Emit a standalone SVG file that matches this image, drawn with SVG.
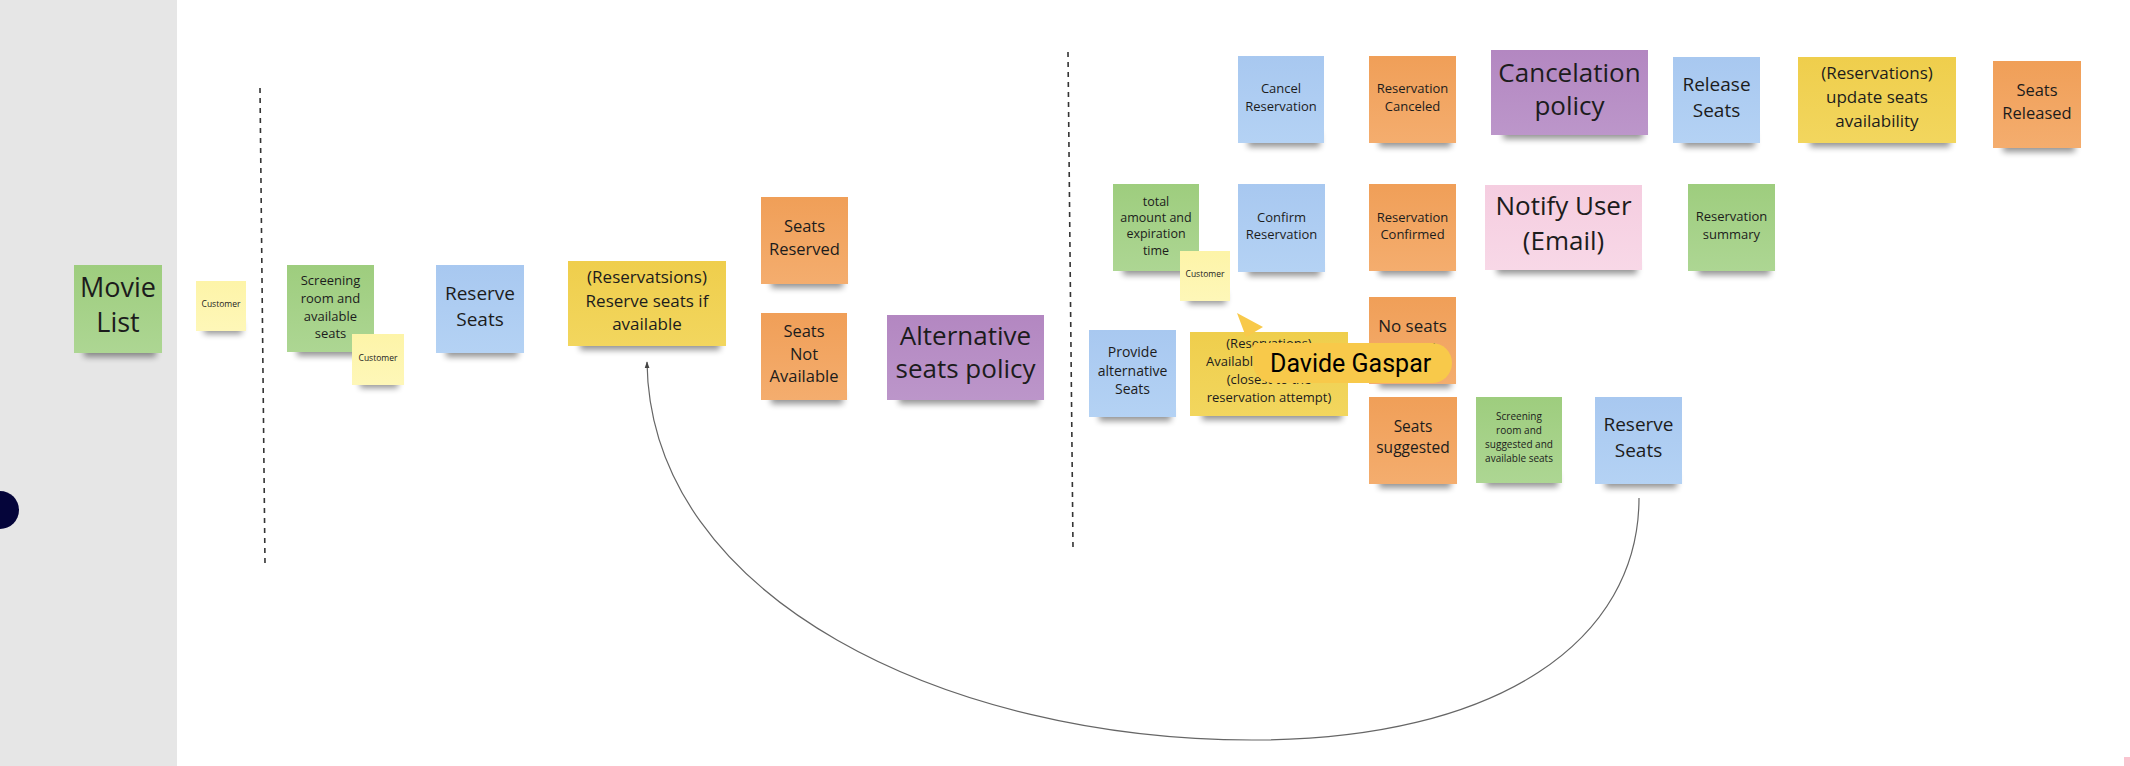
<svg xmlns="http://www.w3.org/2000/svg" width="2130" height="766" viewBox="0 0 2130 766">
<style>
.t{font-family:"Open Sans","Liberation Sans",sans-serif;fill:#1c1c1c;text-anchor:middle}
.f8{font-size:8.5px}.f10{font-size:10px}.f13{font-size:13px}.f125{font-size:12.5px}.f14{font-size:14px}.f155{font-size:15.5px}.f165{font-size:16.5px}.f17{font-size:17px}.f19{font-size:19px}.f26{font-size:26px}.f27{font-size:27px}
.sh{fill:#000;opacity:.42;filter:url(#blur)}
.green{fill:url(#gG)}.blue{fill:url(#gB)}.orange{fill:url(#gO)}.yellow{fill:url(#gY)}.purple{fill:url(#gP)}.pink{fill:url(#gK)}.ly{fill:url(#gL)}
.dash{stroke:#333;stroke-width:1.6;stroke-dasharray:5 5;fill:none}
.conn{stroke:#666;stroke-width:1.2;fill:none}
</style>
<defs>
<filter id="blur" x="-20%" y="-100%" width="140%" height="300%"><feGaussianBlur stdDeviation="3"/></filter>
<linearGradient id="gG" x1="0" y1="0" x2="0" y2="1"><stop offset="0" stop-color="#9ecd7e"/><stop offset="1" stop-color="#add693"/></linearGradient>
<linearGradient id="gB" x1="0" y1="0" x2="0" y2="1"><stop offset="0" stop-color="#a8c8f0"/><stop offset="1" stop-color="#b4d2f4"/></linearGradient>
<linearGradient id="gO" x1="0" y1="0" x2="0" y2="1"><stop offset="0" stop-color="#f09f58"/><stop offset="1" stop-color="#f4ad6e"/></linearGradient>
<linearGradient id="gY" x1="0" y1="0" x2="0" y2="1"><stop offset="0" stop-color="#efce4c"/><stop offset="1" stop-color="#f2d65e"/></linearGradient>
<linearGradient id="gP" x1="0" y1="0" x2="0" y2="1"><stop offset="0" stop-color="#b387c1"/><stop offset="1" stop-color="#bc96ca"/></linearGradient>
<linearGradient id="gK" x1="0" y1="0" x2="0" y2="1"><stop offset="0" stop-color="#f5cde0"/><stop offset="1" stop-color="#f8d8e7"/></linearGradient>
<linearGradient id="gL" x1="0" y1="0" x2="0" y2="1"><stop offset="0" stop-color="#fdf4a8"/><stop offset="1" stop-color="#fef7b8"/></linearGradient>
<marker id="arr" viewBox="0 0 10 10" refX="9" refY="5" markerWidth="7" markerHeight="7" orient="auto" markerUnits="userSpaceOnUse"><path d="M0 1.5 L10 5 L0 8.5 z" fill="#444"/></marker>
</defs>
<rect x="0" y="0" width="2130" height="766" fill="#ffffff"/>
<rect x="0" y="0" width="177" height="766" fill="#e6e6e6"/>
<circle cx="0" cy="510" r="19" fill="#05053a"/>
<rect x="2124" y="757" width="6" height="9" fill="#f9c4cf"/>

<g id="separators">
<path class="dash" d="M260 88 L265 564"/>
<path class="dash" d="M1068 52 L1073 548"/>
</g>

<g id="connectors">
<path class="conn" marker-end="url(#arr)" d="M1639 498 C1639 640 1500 740 1252 740 C950 740 650 600 647 362"/>
</g>

<g id="movie-list"><rect class="sh" x="84" y="343" width="72" height="14"/><rect class="green" x="74" y="265" width="88" height="88"/>
<text class="t f27" x="118" y="297">Movie</text><text class="t f27" x="118" y="332">List</text></g>

<g id="customer-1"><rect class="sh" x="204" y="322" width="38" height="12"/><rect class="ly" x="196" y="281" width="50" height="50"/>
<text class="t f8" x="221" y="307">Customer</text></g>

<g id="screening-room"><rect class="sh" x="297" y="342" width="72" height="14"/><rect class="green" x="287" y="265" width="87" height="87"/>
<text class="t f13" x="330.5" y="285">Screening</text><text class="t f13" x="330.5" y="303">room and</text><text class="t f13" x="330.5" y="321">available</text><text class="t f13" x="330.5" y="338">seats</text></g>

<g id="customer-2"><rect class="sh" x="360" y="376" width="38" height="12"/><rect class="ly" x="352" y="334" width="52" height="51"/>
<text class="t f8" x="378" y="361">Customer</text></g>

<g id="reserve-seats-1"><rect class="sh" x="446" y="343" width="72" height="14"/><rect class="blue" x="436" y="265" width="88" height="88"/>
<text class="t f19" x="480" y="300">Reserve</text><text class="t f19" x="480" y="326">Seats</text></g>

<g id="reserve-seats-if-available"><rect class="sh" x="580" y="336" width="140" height="14"/><rect class="yellow" x="568" y="261" width="158" height="85"/>
<text class="t f17" x="647" y="283">(Reservatsions)</text><text class="t f17" x="647" y="307">Reserve seats if</text><text class="t f17" x="647" y="330">available</text></g>

<g id="seats-reserved"><rect class="sh" x="771" y="274" width="72" height="14"/><rect class="orange" x="761" y="197" width="87" height="87"/>
<text class="t f165" x="804.5" y="232">Seats</text><text class="t f165" x="804.5" y="255">Reserved</text></g>

<g id="seats-not-available"><rect class="sh" x="771" y="390" width="72" height="14"/><rect class="orange" x="761" y="313" width="86" height="87"/>
<text class="t f165" x="804" y="337">Seats</text><text class="t f165" x="804" y="360">Not</text><text class="t f165" x="804" y="382">Available</text></g>

<g id="alternative-seats-policy"><rect class="sh" x="899" y="390" width="140" height="14"/><rect class="purple" x="887" y="315" width="157" height="85"/>
<text class="t f26" x="965.5" y="345">Alternative</text><text class="t f26" x="965.5" y="378">seats policy</text></g>

<g id="cancel-reservation"><rect class="sh" x="1248" y="133" width="72" height="14"/><rect class="blue" x="1238" y="56" width="86" height="87"/>
<text class="t f13" x="1281" y="93">Cancel</text><text class="t f13" x="1281" y="111">Reservation</text></g>

<g id="reservation-canceled"><rect class="sh" x="1379" y="133" width="72" height="14"/><rect class="orange" x="1369" y="56" width="87" height="87"/>
<text class="t f13" x="1412.5" y="93">Reservation</text><text class="t f13" x="1412.5" y="111">Canceled</text></g>

<g id="cancelation-policy"><rect class="sh" x="1503" y="125" width="140" height="14"/><rect class="purple" x="1491" y="50" width="157" height="85"/>
<text class="t f26" x="1569.5" y="82">Cancelation</text><text class="t f26" x="1569.5" y="115">policy</text></g>

<g id="release-seats"><rect class="sh" x="1683" y="133" width="72" height="14"/><rect class="blue" x="1673" y="57" width="87" height="86"/>
<text class="t f19" x="1716.5" y="91">Release</text><text class="t f19" x="1716.5" y="117">Seats</text></g>

<g id="update-seats-availability"><rect class="sh" x="1810" y="133" width="140" height="14"/><rect class="yellow" x="1798" y="57" width="158" height="86"/>
<text class="t f17" x="1877" y="79">(Reservations)</text><text class="t f17" x="1877" y="103">update seats</text><text class="t f17" x="1877" y="127">availability</text></g>

<g id="seats-released"><rect class="sh" x="2003" y="138" width="72" height="14"/><rect class="orange" x="1993" y="61" width="88" height="87"/>
<text class="t f165" x="2037" y="96">Seats</text><text class="t f165" x="2037" y="119">Released</text></g>

<g id="total-amount"><rect class="sh" x="1123" y="261" width="70" height="14"/><rect class="green" x="1113" y="184" width="86" height="87"/>
<text class="t f125" x="1156" y="206">total</text><text class="t f125" x="1156" y="222">amount and</text><text class="t f125" x="1156" y="238">expiration</text><text class="t f125" x="1156" y="255">time</text></g>

<g id="customer-3"><rect class="sh" x="1188" y="292" width="38" height="12"/><rect class="ly" x="1180" y="251" width="50" height="50"/>
<text class="t f8" x="1205" y="277">Customer</text></g>

<g id="confirm-reservation"><rect class="sh" x="1248" y="262" width="72" height="14"/><rect class="blue" x="1238" y="184" width="87" height="88"/>
<text class="t f13" x="1281.5" y="222">Confirm</text><text class="t f13" x="1281.5" y="239">Reservation</text></g>

<g id="reservation-confirmed"><rect class="sh" x="1379" y="261" width="72" height="14"/><rect class="orange" x="1369" y="184" width="87" height="87"/>
<text class="t f13" x="1412.5" y="222">Reservation</text><text class="t f13" x="1412.5" y="239">Confirmed</text></g>

<g id="notify-user"><rect class="sh" x="1497" y="260" width="140" height="14"/><rect class="pink" x="1485" y="185" width="157" height="85"/>
<text class="t f26" x="1563.5" y="215">Notify User</text><text class="t f26" x="1563.5" y="250">(Email)</text></g>

<g id="reservation-summary"><rect class="sh" x="1698" y="261" width="72" height="14"/><rect class="green" x="1688" y="184" width="87" height="87"/>
<text class="t f13" x="1731.5" y="221">Reservation</text><text class="t f13" x="1731.5" y="239">summary</text></g>

<g id="provide-alternative-seats"><rect class="sh" x="1099" y="407" width="72" height="14"/><rect class="blue" x="1089" y="330" width="87" height="87"/>
<text class="t f14" x="1132.5" y="357">Provide</text><text class="t f14" x="1132.5" y="376">alternative</text><text class="t f14" x="1132.5" y="394">Seats</text></g>

<g id="available-seats"><rect class="sh" x="1202" y="406" width="140" height="14"/><rect class="yellow" x="1190" y="332" width="158" height="84"/>
<text class="t f13" x="1269" y="348">(Reservations)</text><text class="t f13" x="1206" y="366" style="text-anchor:start">Available seats</text><text class="t f13" x="1269" y="384">(closest to the</text><text class="t f13" x="1269" y="402">reservation attempt)</text></g>

<g id="no-seats-found"><rect class="sh" x="1379" y="374" width="72" height="14"/><rect class="orange" x="1369" y="297" width="87" height="87"/>
<text class="t f17" x="1412.5" y="332">No seats</text><text class="t f17" x="1412.5" y="355">found</text></g>

<g id="seats-suggested"><rect class="sh" x="1379" y="474" width="72" height="14"/><rect class="orange" x="1369" y="397" width="88" height="87"/>
<text class="t f155" x="1413" y="432">Seats</text><text class="t f155" x="1413" y="453">suggested</text></g>

<g id="screening-room-suggested"><rect class="sh" x="1486" y="473" width="72" height="14"/><rect class="green" x="1476" y="397" width="86" height="86"/>
<text class="t f10" x="1519" y="420">Screening</text><text class="t f10" x="1519" y="434">room and</text><text class="t f10" x="1519" y="448">suggested and</text><text class="t f10" x="1519" y="462">available seats</text></g>

<g id="reserve-seats-2"><rect class="sh" x="1605" y="474" width="72" height="14"/><rect class="blue" x="1595" y="397" width="87" height="87"/>
<text class="t f19" x="1638.5" y="431">Reserve</text><text class="t f19" x="1638.5" y="457">Seats</text></g>

<g id="cursor-davide-gaspar">
<path d="M1237 313 L1263 327 L1246 337 Z" fill="#f8c94a"/>
<path d="M1257 343 L1432 343 A20 20 0 0 1 1452 363 A20 20 0 0 1 1432 383 L1273 383 A20 20 0 0 1 1253 363 L1253 347 A4 4 0 0 1 1257 343 Z" fill="#f8c94a"/>
<text x="1270" y="372" style="font-family:Roboto,'Liberation Sans',sans-serif;font-size:25px;fill:#000">Davide Gaspar</text>
</g>
</svg>
